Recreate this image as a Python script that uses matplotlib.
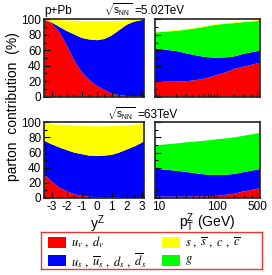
import numpy as np
import matplotlib
matplotlib.use("Agg")
import matplotlib.pyplot as plt
from matplotlib.patches import Rectangle
from matplotlib.ticker import MultipleLocator, NullFormatter, LogLocator

plt.rcParams['font.family'] = ['Liberation Sans', 'DejaVu Sans']
plt.rcParams['mathtext.fontset'] = 'custom'
plt.rcParams['mathtext.rm'] = 'Liberation Sans'
plt.rcParams['mathtext.it'] = 'Liberation Sans:italic'
plt.rcParams['mathtext.bf'] = 'Liberation Sans:bold'

# rapidity grid (left panels) and pT grid (right panels)
y_rap = [-3.5, -3.0, -2.5, -2.0, -1.5, -1.0, -0.5, 0.0, 0.5, 1.0, 1.5, 2.0, 2.5, 3.0, 3.15]
pt = [8.7, 20, 30, 50, 70, 100, 150, 200, 300, 560]

# sqrt(s)=5.02 TeV, contributions in % vs y
val_y5 = [99, 95, 84, 67, 47, 32, 22, 14, 9, 4, 2, 1, 0.3, 0, 0]
sea_y5 = [0.8, 1, 6.5, 18, 33.6, 44, 52, 59, 65.5, 75, 84, 92, 96.7, 99, 99.2]
g_y5 = [0] * 15
sc_y5 = [0.2, 3.5, 8.5, 13.5, 17.4, 21.5, 23.5, 24.5, 23, 18.5, 12, 5.5, 2, 0.5, 0.3]

# sqrt(s)=5.02 TeV, vs pT
val_pt5 = [19.4, 19.4, 20, 22, 24.5, 28, 32, 36, 39, 44]
sea_pt5 = [43.1, 39.6, 36, 30.6, 26.5, 22.4, 19, 16, 16.6, 15.5]
g_pt5 = [20.5, 26, 30.6, 36.4, 40, 42.6, 43.4, 43, 40.9, 38.5]
sc_pt5 = [1, 1, 1, 1, 1, 1, 1, 1, 1, 1]

# sqrt(s)=63 TeV, vs y
val_y63 = [31.7, 22, 14, 9, 5, 3, 1.8, 1, 0.5, 0.3, 0.2, 0.1, 0, 0, 0]
sea_y63 = [44.1, 49, 53, 54.4, 55, 55, 54.2, 54.5, 55.5, 56.7, 59.8, 63.9, 68, 73, 75]
g_y63 = [0] * 15
sc_y63 = [22.2, 26.5, 30, 33.1, 36, 37.5, 39, 39.3, 38.8, 38, 35.5, 32, 29, 25, 23.5]

# sqrt(s)=63 TeV, vs pT
val_pt63 = [1.8, 1.8, 1.8, 2.2, 2.2, 3, 4.4, 5.7, 8.8, 13]
sea_pt63 = [37, 34.2, 32.6, 29.8, 28.6, 27.4, 26.4, 26, 25.6, 25.3]
g_pt63 = [30.8, 36, 39.2, 43, 45.2, 47.1, 48.1, 48.3, 48, 47.7]
sc_pt63 = [0, 0, 0, 0, 0, 0, 0, 0, 0, 0]

colors = ['#ff0000', '#0000ff', '#00ff00', '#ffff00']  # valence, sea, gluon, s/c
legend_labels = [r'$u_v\ ,\ d_v$', r'$u_s\ ,\ \overline{u}_s\ ,\ d_s\ ,\ \overline{d}_s$',
                 r'$s\ ,\ \overline{s}\ ,\ c\ ,\ \overline{c}$', r'$g$']

W, H = 272, 275
fig = plt.figure(figsize=(W / 100, H / 100), dpi=100)

def px_axes(x0, y0, x1, y1):
    return fig.add_axes([x0 / W, 1 - y1 / H, (x1 - x0) / W, (y1 - y0) / H])

def style(ax):
    for s in ax.spines.values():
        s.set_linewidth(1.2)
        s.set_color('#222222')
    ax.tick_params(which='both', direction='in', top=False, right=False, width=0.8,
                   labelsize=8.5, pad=2)
    ax.tick_params(which='major', length=4)
    ax.tick_params(which='minor', length=2)
    ax.set_ylim(0, 100)

axes = {}
axes['y5'] = px_axes(44, 19.3, 144, 96.7)
axes['pt5'] = px_axes(155, 19.3, 260, 96.7)
axes['y63'] = px_axes(44, 122.3, 144, 198)
axes['pt63'] = px_axes(155, 122.3, 260, 198)

for key, x, parts in [('y5', y_rap, (val_y5, sea_y5, g_y5, sc_y5)),
                      ('y63', y_rap, (val_y63, sea_y63, g_y63, sc_y63)),
                      ('pt5', pt, (val_pt5, sea_pt5, g_pt5, sc_pt5)),
                      ('pt63', pt, (val_pt63, sea_pt63, g_pt63, sc_pt63))]:
    ax = axes[key]
    ax.stackplot(x, *parts, colors=colors, linewidth=0)
    style(ax)
    ax.set_xlim(x[0], x[-1])
    if key.startswith('y'):
        ax.set_yticks([0, 20, 40, 60, 80, 100])
        ax.yaxis.set_minor_locator(MultipleLocator(10))
        ax.set_xticks([-3, -2, -1, 0, 1, 2, 3])
        ax.xaxis.set_minor_locator(MultipleLocator(0.5))
    else:
        ax.set_xscale('log')
        ax.set_xticks([10, 100, 500])
        ax.set_xticklabels(['10', '100', '500'])
        ax.xaxis.set_minor_locator(LogLocator(base=10, subs=np.arange(2, 10)))
        ax.xaxis.set_minor_formatter(NullFormatter())
        ax.set_yticks([0, 20, 40, 60, 80, 100])
        ax.yaxis.set_minor_locator(MultipleLocator(10))
        ax.set_yticklabels([])

axes['y5'].set_xticklabels([])
axes['pt5'].set_xticklabels([])
axes['y63'].set_xticklabels(['-3', '-2', '-1', '0', '1', '2', '3'])

# texts
sq = r'$\sqrt{\mathrm{s}_{\mathrm{NN}}}$'
fig.text(44 / W, 1 - 11 / H, 'p+Pb', fontsize=8.5, ha='left', va='center')
fig.text(132 / W, 1 - 10 / H, sq, fontsize=7, ha='right', va='center')
fig.text(134 / W, 1 - 11 / H, '=5.02TeV', fontsize=8.5, ha='left', va='center')
fig.text(135 / W, 1 - 114 / H, sq, fontsize=7, ha='right', va='center')
fig.text(137 / W, 1 - 115 / H, '=63TeV', fontsize=8.5, ha='left', va='center')
fig.text(13 / W, 1 - 107 / H, 'parton  contribution  (%)', fontsize=10, rotation=90,
         ha='center', va='center')
fig.text(97 / W, 1 - 224 / H, r'$\mathrm{y}^{\mathrm{Z}}$', fontsize=10, ha='center', va='center')
fig.text(207 / W, 1 - 223 / H, r'$\mathrm{p}_{\mathrm{T}}^{\mathrm{Z}}$ (GeV)', fontsize=10,
         ha='center', va='center')

# legend box
lax = px_axes(41, 232, 262, 269)
lax.set_xlim(41, 262)
lax.set_ylim(269, 232)
lax.set_xticks([])
lax.set_yticks([])
for s in lax.spines.values():
    s.set_color('#ee3333')
    s.set_linewidth(1.0)
leg_pos = [(48, 237), (48, 255), (162, 237), (162, 255)]
leg_colors = ['#ff0000', '#0000ff', '#ffff00', '#00ff00']
for (lx, ly), c, lab in zip(leg_pos, leg_colors, legend_labels):
    lax.add_patch(Rectangle((lx, ly), 18, 11, facecolor=c, edgecolor='none'))
    lax.text(lx + 23, ly + 5.5, lab, fontsize=9, ha='left', va='center', math_fontfamily='stix')

fig.savefig('out.png', dpi=100)
